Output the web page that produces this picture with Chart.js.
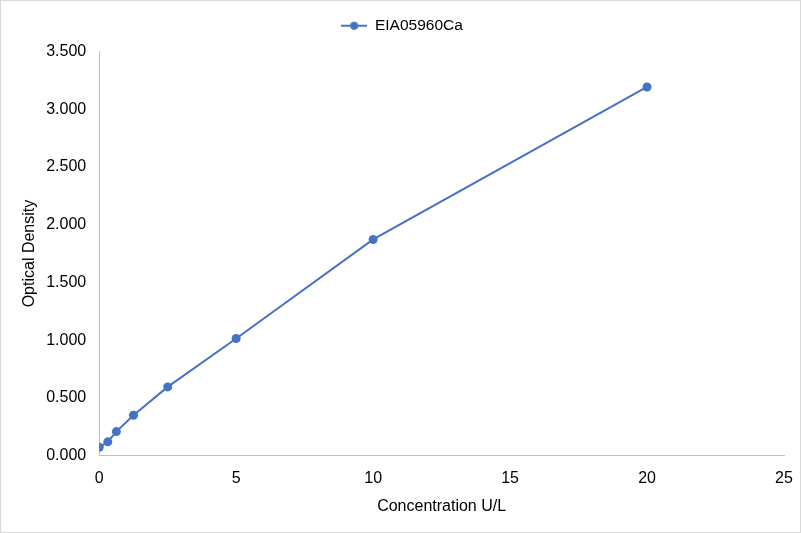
<!DOCTYPE html>
<html><head><meta charset="utf-8">
<script src="https://cdn.jsdelivr.net/npm/chart.js@4.4.0/dist/chart.umd.min.js"></script>
<style>
html,body{margin:0;padding:0;background:#fff;}
#wrap{position:absolute;left:0;top:0;width:799px;height:531px;border:1px solid #d9d9d9;}
canvas{display:block;}
</style></head>
<body>
<div id="wrap"><canvas id="c" width="799" height="531"></canvas></div>
<script>
const seriesName = "EIA05960Ca";
const concentrations = [0, 0.3125, 0.625, 1.25, 2.5, 5, 10, 20];
const densities = [0.072, 0.119, 0.208, 0.349, 0.595, 1.014, 1.872, 3.193];
const xTitle = "Concentration U/L";
const yTitle = "Optical Density";

const color = "#4472C4";
const textColor = "#000000";
const font = "'Liberation Sans', Arial, sans-serif";

// legend marker: line with a dot
const mk = document.createElement('canvas');
mk.width = 26; mk.height = 10;
const mctx = mk.getContext('2d');
mctx.strokeStyle = color; mctx.lineWidth = 2;
mctx.beginPath(); mctx.moveTo(0,5); mctx.lineTo(26,5); mctx.stroke();
mctx.fillStyle = color; mctx.beginPath(); mctx.arc(13,5,4,0,Math.PI*2); mctx.fill();

const legendMargin = {
  id: 'legendMargin',
  beforeInit(chart) {
    const fit = chart.legend.fit;
    chart.legend.fit = function() { fit.bind(chart.legend)(); this.height += 8; };
  }
};

new Chart(document.getElementById('c'), {
  type: 'scatter',
  data: {
    datasets: [{
      label: seriesName,
      data: concentrations.map((x,i)=>({x:x, y:densities[i]})),
      showLine: true,
      borderColor: color,
      backgroundColor: color,
      borderWidth: 2,
      pointRadius: 4.5,
      pointHoverRadius: 4.5,
      pointBorderWidth: 0
    }]
  },
  plugins: [legendMargin],
  options: {
    responsive: false,
    animation: false,
    devicePixelRatio: 1,
    layout: {padding: {left: 19, right: 16, top: 5, bottom: 16}},
    plugins: {
      legend: {
        position: 'top',
        labels: {
          color: textColor,
          font: {family: font, size: 15.5},
          usePointStyle: true,
          pointStyleWidth: 26,
          boxHeight: 10,
          padding: 12,
          generateLabels: (chart) => [{
            text: seriesName, pointStyle: mk, fillStyle: color, strokeStyle: color,
            lineWidth: 0, datasetIndex: 0, fontColor: textColor
          }]
        }
      },
      tooltip: {enabled: false}
    },
    scales: {
      x: {
        type: 'linear', min: 0, max: 25,
        afterFit: (s) => { s.paddingRight = 0; },
        ticks: {stepSize: 5, color: textColor, font: {family: font, size: 16}, padding: 13},
        grid: {display: false, drawTicks: false},
        border: {display: true, color: '#bfbfbf', width: 1},
        title: {display: true, text: xTitle, color: textColor, font: {family: font, size: 16}, padding: {top: -4, bottom: 0}}
      },
      y: {
        min: 0, max: 3.5,
        ticks: {stepSize: 0.5, color: textColor, font: {family: font, size: 16}, padding: 13,
          callback: v => v.toFixed(3)},
        grid: {display: false, drawTicks: false},
        border: {display: true, color: '#bfbfbf', width: 1},
        title: {display: true, text: yTitle, color: textColor, font: {family: font, size: 16}, padding: {top: 0, bottom: -6}}
      }
    }
  }
});
</script>
</body></html>
